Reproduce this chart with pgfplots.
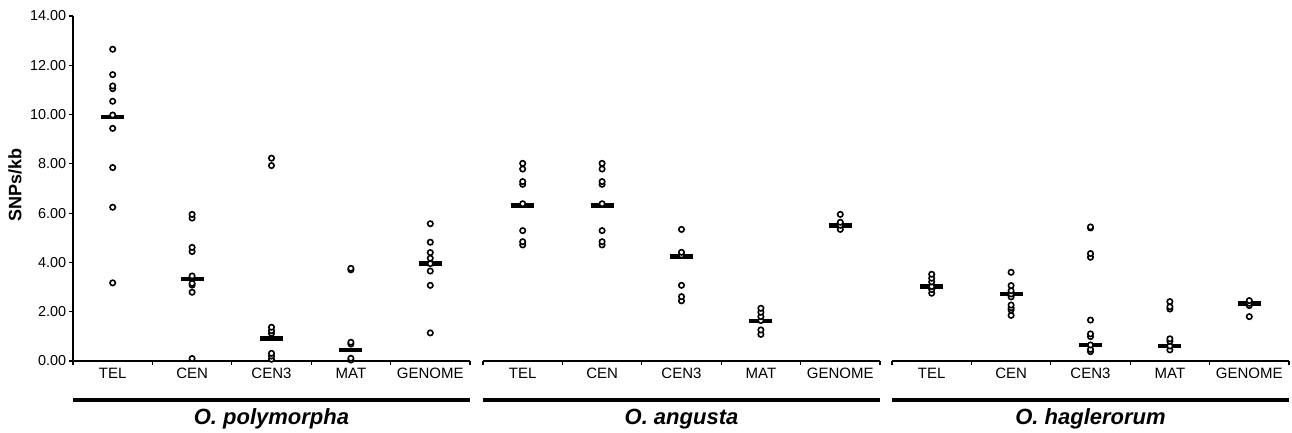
\documentclass[border=0pt]{standalone}
\usepackage{fontspec}
\setmainfont{Liberation Sans}
\usepackage{pgfplots}
\pgfplotsset{compat=1.18}

% 1 px of the reference = 0.5pt
\pgfplotsset{
  panel/.style={
    scale only axis, width=198.5pt, height=172.5pt,
    xmin=0.5, xmax=5.5, ymin=0, ymax=14,
    axis x line*=bottom,
    xtick={1,2,3,4,5}, xticklabels={TEL,CEN,CEN3,MAT,GENOME},
    major x tick style={draw=none},
    minor xtick={0.5,1.5,2.5,3.5,4.5,5.5},
    minor tick length=2pt, major tick length=2pt, tick align=outside,
    every tick/.style={black, line width=0.6pt},
    x tick label style={font=\fontsize{7.5}{9}\selectfont, inner sep=1.5pt},
    axis line style={line width=0.65pt},
    clip=false,
  },
  med/.style={only marks, mark=-, mark size=5.75pt, mark options={line width=2.4pt}, black},
  pts/.style={only marks, mark=*, mark size=1.35pt, mark options={line width=0.8pt, fill=white, draw=black}},
}
\tikzset{species/.style={font=\fontsize{11}{13}\selectfont\bfseries\itshape, anchor=base}}

\begin{document}
\begin{tikzpicture}
\path[use as bounding box] (-36.5pt,-36pt) rectangle (609.5pt,180.5pt);

% O. polymorpha
\begin{axis}[panel, name=ax1, at={(0pt,0pt)}, anchor=south west,
    axis y line*=left,
    ytick={0,2,...,14},
    y tick label style={font=\fontsize{7.2}{8}\selectfont, inner sep=1.2pt},
    yticklabel style={/pgf/number format/.cd, fixed, fixed zerofill, precision=2},
    /pgf/number format/assume math mode=true,
    ylabel={SNPs/kb},
    ylabel style={font=\fontsize{9}{11}\selectfont\bfseries, at={(axis description cs:-0.146,0.51)}, anchor=center},
  ]
  \addplot[med] coordinates {(1,9.90) (2,3.33) (3,0.92) (4,0.45) (5,3.95)};
  \addplot[pts] coordinates {
    (1,3.17) (1,6.24) (1,7.85) (1,9.44) (1,9.98) (1,10.54) (1,11.05) (1,11.16) (1,11.62) (1,12.65)
    (2,0.10) (2,2.79) (2,3.08) (2,3.15) (2,3.45) (2,4.44) (2,4.61) (2,5.80) (2,5.95)
    (3,0.07) (3,0.20) (3,0.31) (3,1.12) (3,1.23) (3,1.37) (3,7.93) (3,8.23)
    (4,0.04) (4,0.11) (4,0.69) (4,0.76) (4,3.70) (4,3.76)
    (5,1.14) (5,3.07) (5,3.65) (5,3.95) (5,4.17) (5,4.40) (5,4.82) (5,5.57)
  };
\end{axis}

% O. angusta
\begin{axis}[panel, name=ax2, at={(205pt,0pt)}, anchor=south west,
    axis y line=none]
  \addplot[med] coordinates {(1,6.30) (2,6.30) (3,4.23) (4,1.62) (5,5.50)};
  \addplot[pts] coordinates {
    (1,4.71) (1,4.84) (1,5.29) (1,6.38) (1,7.17) (1,7.28) (1,7.79) (1,8.02)
    (2,4.71) (2,4.84) (2,5.29) (2,6.38) (2,7.17) (2,7.28) (2,7.79) (2,8.02)
    (3,2.44) (3,2.61) (3,3.07) (3,4.30) (3,4.41) (3,5.34)
    (4,1.08) (4,1.26) (4,1.64) (4,1.80) (4,1.98) (4,2.14)
    (5,5.34) (5,5.51) (5,5.63) (5,5.95)
  };
\end{axis}

% O. haglerorum
\begin{axis}[panel, name=ax3, at={(409.5pt,0pt)}, anchor=south west,
    axis y line=none]
  \addplot[med] coordinates {(1,3.03) (2,2.72) (3,0.65) (4,0.61) (5,2.34)};
  \addplot[pts] coordinates {
    (1,2.75) (1,2.90) (1,3.02) (1,3.21) (1,3.36) (1,3.52)
    (2,1.85) (2,2.07) (2,2.16) (2,2.27) (2,2.60) (2,2.72) (2,2.85) (2,3.06) (2,3.60)
    (3,0.38) (3,0.47) (3,0.65) (3,0.99) (3,1.10) (3,1.66) (3,4.21) (3,4.36) (3,5.40) (3,5.44)
    (4,0.45) (4,0.61) (4,0.80) (4,0.90) (4,2.11) (4,2.20) (4,2.41)
    (5,1.80) (5,2.25) (5,2.34) (5,2.45)
  };
\end{axis}

% species brackets and names
\foreach \a/\sp in {ax1/O. polymorpha, ax2/O. angusta, ax3/O. haglerorum}{
  \draw[line width=1.65pt] ([yshift=-19.5pt]\a.south west) -- ([yshift=-19.5pt]\a.south east);
  \node[species] at ([yshift=-32pt]\a.south) {\sp};
}
\end{tikzpicture}
\end{document}
